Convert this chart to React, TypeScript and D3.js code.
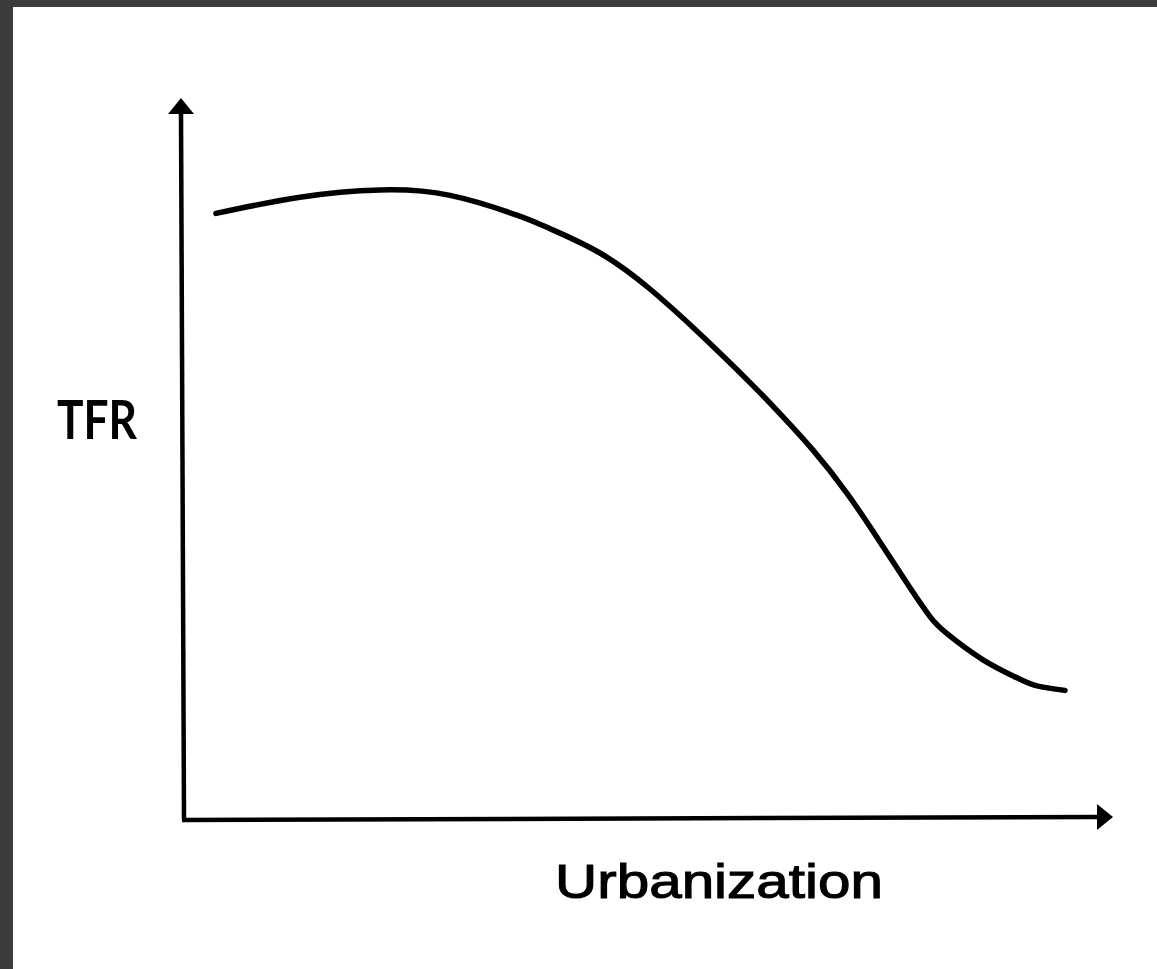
import * as d3 from 'd3';

// urbanization (%) vs total fertility rate
const urbanization = [3.49, 12.66, 21.4, 29.04, 36.35, 39.96, 45.41, 50.87, 56.33, 61.79, 65.39, 68.67, 72.38, 75.98, 79.26, 81.44, 83.3, 87.23, 90.94, 93.12, 96.18];
const tfr = [6.74, 6.92, 7.0, 6.94, 6.72, 6.57, 6.3, 5.9, 5.4, 4.86, 4.48, 4.11, 3.63, 3.09, 2.58, 2.26, 2.07, 1.78, 1.58, 1.49, 1.44];

const xLabel = 'Urbanization';
const yLabel = 'TFR';

const W = 1157;
const H = 969;

export default function App() {
  const x = d3.scaleLinear().domain([0, 100]).range([184, 1100]);
  const y = d3.scaleLinear().domain([0, 8]).range([820, 100]);

  const pts: [number, number][] = urbanization.map((u, i) => [u, tfr[i]]);
  const line = d3
    .line<[number, number]>()
    .x((d) => x(d[0]))
    .y((d) => y(d[1]))
    .curve(d3.curveNatural);

  const ox = x(0);
  const oy = y(0);
  // axis ends, a bit tilted like the hand drawing
  const yTopX = ox - 3;
  const yTip = 98;
  const xTipY = oy - 3;
  const xTip = 1113;

  return (
    <svg
      width={W}
      height={H}
      style={{ position: 'absolute', left: 0, top: 0, display: 'block' }}
    >
      <rect x={0} y={0} width={W} height={H} fill="#3c3c3c" />
      <rect x={13} y={7} width={W - 13} height={H - 7} fill="#ffffff" />

      {/* y axis */}
      <line x1={ox} y1={oy} x2={yTopX} y2={yTip + 14} stroke="#000" strokeWidth={4.5} />
      <polygon
        points={`${yTopX},${yTip} ${yTopX - 13},${yTip + 16} ${yTopX + 13},${yTip + 16}`}
        fill="#000"
      />

      {/* x axis */}
      <line x1={ox - 2} y1={oy} x2={xTip - 14} y2={xTipY} stroke="#000" strokeWidth={4.5} />
      <polygon
        points={`${xTip},${xTipY} ${xTip - 16},${xTipY - 13} ${xTip - 16},${xTipY + 13}`}
        fill="#000"
      />

      <path
        d={line(pts) ?? ''}
        fill="none"
        stroke="#000"
        strokeWidth={5.5}
        strokeLinecap="round"
        strokeLinejoin="round"
      />

      <text
        x={57}
        y={439}
        fontFamily="Lato, 'Open Sans', sans-serif"
        fontWeight={700}
        fontSize={54}
        textLength={80}
        lengthAdjust="spacingAndGlyphs"
        fill="#000"
      >
        {yLabel}
      </text>
      <text
        x={555}
        y={898}
        fontFamily="'Liberation Sans', Arial, sans-serif"
        fontWeight={400}
        fontSize={49}
        textLength={328}
        lengthAdjust="spacingAndGlyphs"
        stroke="#000"
        strokeWidth={1.1}
        fill="#000"
      >
        {xLabel}
      </text>
    </svg>
  );
}
